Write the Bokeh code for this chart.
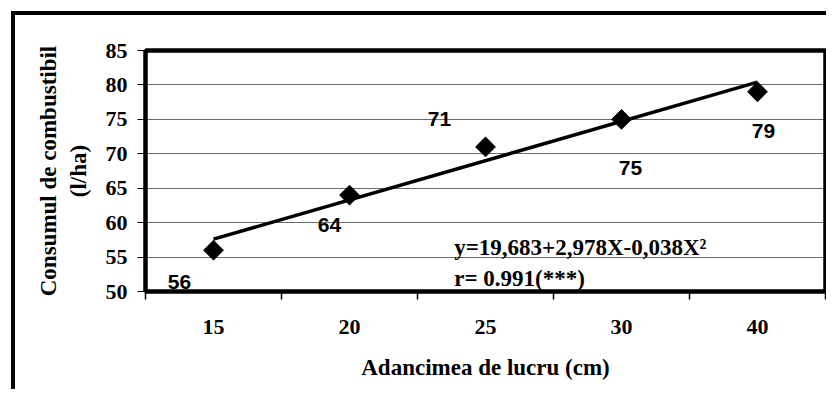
import numpy as np
from bokeh.plotting import figure
from bokeh.models import (ColumnDataSource, Range1d, FixedTicker, Label, LinearAxis)
from bokeh.embed import file_html
from bokeh.resources import INLINE

# ---- data ----
depth_labels = ["15", "20", "25", "30", "40"]
fuel_values = [56, 64, 71, 75, 79]
y_ticks = [50, 55, 60, 65, 70, 75, 80, 85]
equation_text = "y=19,683+2,978X-0,038X\u00b2"
r_text = "r= 0.991(***)"
x_title = "Adancimea de lucru (cm)"
y_title = "Consumul de combustibil\n(l/ha)"

# label placement (pixel offsets of data labels from their points)
label_dx = [-34, -20, -46, 9, 6]
label_dy = [32, 30, -28, 49, 39]

W, H = 826, 389
SERIF = "Liberation Serif"
SANS = "Liberation Sans"
FRAME_W = 4

x_pos = np.arange(len(depth_labels)) + 0.5
src = ColumnDataSource(dict(x=x_pos, y=fuel_values,
                            lbl=[str(v) for v in fuel_values],
                            dx=label_dx, dy=label_dy))

p = figure(width=W, height=H, output_backend="svg", toolbar_location=None,
           x_range=Range1d(0, len(depth_labels)), y_range=Range1d(y_ticks[0], y_ticks[-1]),
           min_border_left=145, min_border_right=1, min_border_top=50, min_border_bottom=98)
p.background_fill_color = "white"
p.border_fill_color = None
p.outline_line_color = "black"
p.outline_line_width = FRAME_W
# outer chart frame (left and top edges visible, the rest runs off the picture)
p.styles = {
    "background-color": "white",
    "background-image": "linear-gradient(black, black), linear-gradient(black, black)",
    "background-size": "4px 100%, 100% 4px",
    "background-position": "11px 11px, 11px 11px",
    "background-repeat": "no-repeat",
}

# y axis
ya = p.yaxis[0]
ya.ticker = FixedTicker(ticks=y_ticks)
ya.major_label_text_font = SERIF
ya.major_label_text_font_style = "bold"
ya.major_label_text_font_size = "22px"
ya.major_label_text_color = "black"
ya.major_tick_out = 8
ya.major_tick_in = 0
ya.major_tick_line_color = "black"
ya.minor_tick_line_color = None
ya.axis_line_color = "black"
ya.axis_line_width = FRAME_W
ya.major_label_standoff = 10
ya.axis_label = y_title
ya.axis_label_text_font = SERIF
ya.axis_label_text_font_style = "bold"
ya.axis_label_text_font_size = "23px"
ya.axis_label_text_color = "black"
ya.axis_label_standoff = 12

# x axis
xa = p.xaxis[0]
xa.ticker = FixedTicker(ticks=list(x_pos), minor_ticks=list(range(len(depth_labels) + 1)))
xa.major_label_overrides = {float(xp): lab for xp, lab in zip(x_pos, depth_labels)}
xa.major_label_text_font = SERIF
xa.major_label_text_font_style = "bold"
xa.major_label_text_font_size = "22px"
xa.major_label_text_color = "black"
xa.major_tick_line_color = None
xa.major_tick_out = 0
xa.major_tick_in = 0
xa.minor_tick_line_color = "black"
xa.minor_tick_line_width = 1.5
xa.minor_tick_out = 8
xa.minor_tick_in = 0
xa.axis_line_color = "black"
xa.axis_line_width = FRAME_W
xa.major_label_standoff = 20
xa.axis_label = x_title
xa.axis_label_text_font = SERIF
xa.axis_label_text_font_style = "bold"
xa.axis_label_text_font_size = "23px"
xa.axis_label_text_color = "black"
xa.axis_label_standoff = 18

# plain frame edges on the top and right
for side in ("above", "right"):
    ax = LinearAxis(ticker=FixedTicker(ticks=[]), major_tick_out=0, major_tick_in=0,
                    minor_tick_out=0, minor_tick_in=0, major_label_standoff=0,
                    axis_label_standoff=0, major_label_text_font_size="0px",
                    axis_line_color="black", axis_line_width=FRAME_W)
    p.add_layout(ax, side)

p.xgrid.grid_line_color = None
p.ygrid.ticker = FixedTicker(ticks=y_ticks)
p.ygrid.grid_line_color = "#6a6a6a"
p.ygrid.grid_line_width = 1.2

# linear trend line over category positions
coef = np.polyfit(x_pos, fuel_values, 1)
tx = np.array([x_pos[0], x_pos[-1]])
p.line(tx, np.polyval(coef, tx), line_color="black", line_width=3.5)

# points
p.scatter("x", "y", source=src, marker="square", angle=np.pi / 4, size=14,
          fill_color="black", line_color="black")

# data labels
p.text("x", "y", text="lbl", source=src, x_offset="dx", y_offset="dy",
       text_align="center", text_baseline="middle", text_font_size="21px",
       text_font={"value": SANS}, text_font_style="bold", text_color="black")

# equation
p.add_layout(Label(x=2.27, y=56.39, text=equation_text, text_font=SERIF,
                   text_font_style="bold", text_font_size="23px", text_color="black",
                   text_baseline="alphabetic"))
p.add_layout(Label(x=2.27, y=51.89, text=r_text, text_font=SERIF,
                   text_font_style="bold", text_font_size="23px", text_color="black",
                   text_baseline="alphabetic"))

open("out.html", "w").write(file_html(p, INLINE))
